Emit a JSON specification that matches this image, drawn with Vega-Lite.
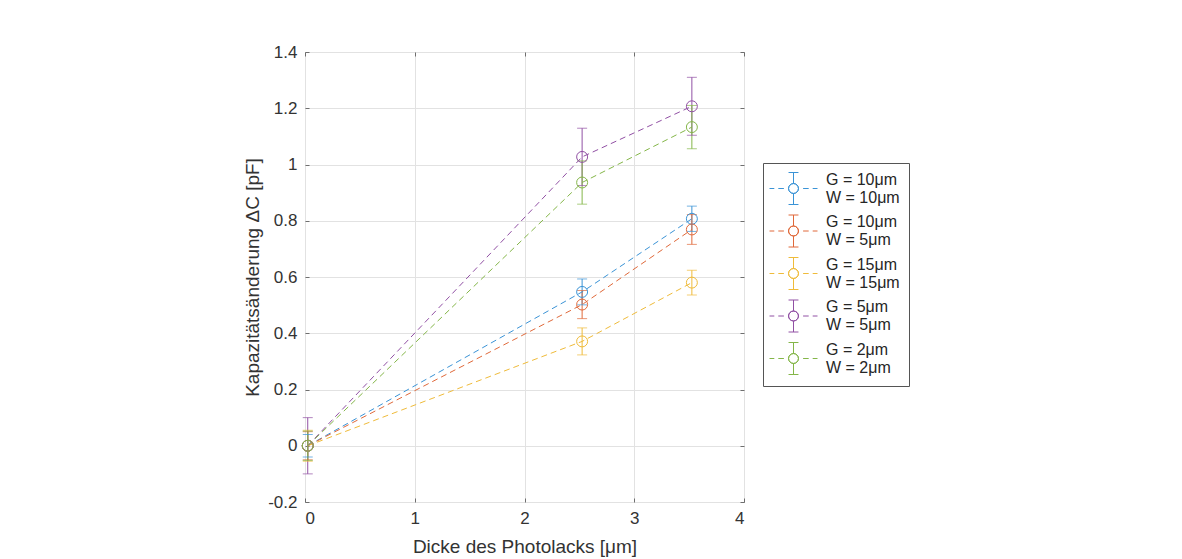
{
  "$schema": "https://vega.github.io/schema/vega-lite/v6.json",
  "width": 439,
  "height": 450,
  "autosize": {"type": "none"},
  "padding": {"left": 305, "top": 52, "right": 438, "bottom": 57},
  "background": "white",
  "config": {
    "font": "Liberation Sans",
    "view": {"stroke": "#6e6e6e", "strokeWidth": 1}
  },
  "data": {
    "values": [
      {"series": "G = 10μm|W = 10μm", "x": 0.025, "y": 0, "lo": -0.04, "hi": 0.04},
      {"series": "G = 10μm|W = 10μm", "x": 2.525, "y": 0.547, "lo": 0.501, "hi": 0.593},
      {"series": "G = 10μm|W = 10μm", "x": 3.525, "y": 0.807, "lo": 0.762, "hi": 0.852},
      {"series": "G = 10μm|W = 5μm", "x": 0.025, "y": 0, "lo": -0.05, "hi": 0.05},
      {"series": "G = 10μm|W = 5μm", "x": 2.525, "y": 0.502, "lo": 0.452, "hi": 0.552},
      {"series": "G = 10μm|W = 5μm", "x": 3.525, "y": 0.769, "lo": 0.716, "hi": 0.822},
      {"series": "G = 15μm|W = 15μm", "x": 0.025, "y": 0, "lo": -0.055, "hi": 0.055},
      {"series": "G = 15μm|W = 15μm", "x": 2.525, "y": 0.371, "lo": 0.323, "hi": 0.419},
      {"series": "G = 15μm|W = 15μm", "x": 3.525, "y": 0.58, "lo": 0.536, "hi": 0.624},
      {"series": "G = 5μm|W = 5μm", "x": 0.025, "y": 0, "lo": -0.1, "hi": 0.1},
      {"series": "G = 5μm|W = 5μm", "x": 2.525, "y": 1.027, "lo": 0.925, "hi": 1.129},
      {"series": "G = 5μm|W = 5μm", "x": 3.525, "y": 1.207, "lo": 1.104, "hi": 1.31},
      {"series": "G = 2μm|W = 2μm", "x": 0.025, "y": 0, "lo": -0.052, "hi": 0.052},
      {"series": "G = 2μm|W = 2μm", "x": 2.525, "y": 0.936, "lo": 0.859, "hi": 1.013},
      {"series": "G = 2μm|W = 2μm", "x": 3.525, "y": 1.133, "lo": 1.056, "hi": 1.21}
    ]
  },
  "resolve": {"axis": {"x": "independent", "y": "independent"}},
  "layer": [
    {
      "mark": {"type": "rule", "strokeWidth": 1},
      "encoding": {
        "x": {
          "field": "x", "type": "quantitative",
          "scale": {"domain": [0, 4], "nice": false, "zero": false},
          "axis": {
            "orient": "bottom", "values": [0, 1, 2, 3, 4], "grid": true, "gridColor": "#e2e2e2",
            "domain": false, "tickSize": -4, "tickColor": "#6e6e6e", "labelPadding": 12,
            "labelFontSize": 17, "labelColor": "#333333", "title": "Dicke des Photolacks [μm]",
            "titleFontSize": 19, "titleFontWeight": "normal", "titleColor": "#333333", "titlePadding": 11
          }
        },
        "y": {
          "field": "lo", "type": "quantitative",
          "scale": {"domain": [-0.2, 1.4], "nice": false, "zero": false},
          "axis": {
            "orient": "left", "values": [-0.2, 0, 0.2, 0.4, 0.6, 0.8, 1, 1.2, 1.4], "grid": true, "gridColor": "#e2e2e2",
            "domain": false, "tickSize": -4, "tickColor": "#6e6e6e", "labelPadding": 12,
            "labelExpr": "replace(format(datum.value, '~g'), '\u2212', '-')",
            "labelFontSize": 17, "labelColor": "#333333", "title": "Kapazitätsänderung ΔC [pF]",
            "titleFontSize": 19, "titleFontWeight": "normal", "titleColor": "#333333", "titlePadding": 5
          }
        },
        "y2": {"field": "hi"},
        "color": {
          "field": "series", "type": "nominal",
          "scale": {
            "domain": ["G = 10μm|W = 10μm", "G = 10μm|W = 5μm", "G = 15μm|W = 15μm", "G = 5μm|W = 5μm", "G = 2μm|W = 2μm"],
            "range": ["#3a93d6", "#e0693a", "#efbb3a", "#9150a4", "#84b648"]
          },
          "legend": {
            "orient": "none", "legendX": 458, "legendY": 111, "title": null,
            "symbolType": "M-1.5,0H-1.2M-0.95,0H-0.6M0.6,0H0.95M1.2,0H1.5M0.31,0A0.31,0.31,0,1,1,-0.31,0A0.31,0.31,0,1,1,0.31,0A0.31,0.31,0,1,0,-0.31,0A0.31,0.31,0,1,0,0.31,0M0,-0.31V-1M-0.31,-1H0.31M0,0.31V1M-0.31,1H0.31",
            "symbolSize": 1024, "symbolStrokeWidth": 1, "symbolFillColor": "transparent", "symbolOffset": 5,
            "labelExpr": "split(datum.label, '|')", "labelFontSize": 16, "labelColor": "#262626",
            "labelLimit": 300, "labelOffset": 16,
            "strokeColor": "#555555", "fillColor": "white", "padding": 9, "rowPadding": 5.5,
            "symbolOpacity": 1,
            "encode": {
              "symbols": {"enter": {"fill": {"value": "transparent"}}, "update": {"fill": {"value": "transparent"}, "opacity": {"value": 1}}},
              "labels": {"update": {"dy": {"value": -9}}}
            }
          }
        }
      }
    },
    {
      "mark": {"type": "tick", "orient": "horizontal", "size": 10, "thickness": 1},
      "encoding": {
        "x": {"field": "x", "type": "quantitative", "axis": {"orient": "top", "labels": false, "title": null, "grid": false, "domain": false, "tickSize": -4, "tickColor": "#6e6e6e", "values": [0, 1, 2, 3, 4]}},
        "y": {"field": "lo", "type": "quantitative", "axis": {"orient": "right", "labels": false, "title": null, "grid": false, "domain": false, "tickSize": -4, "tickColor": "#6e6e6e", "values": [-0.2, 0, 0.2, 0.4, 0.6, 0.8, 1, 1.2, 1.4]}},
        "color": {"field": "series", "type": "nominal"}
      }
    },
    {
      "mark": {"type": "tick", "orient": "horizontal", "size": 10, "thickness": 1},
      "encoding": {
        "x": {"field": "x", "type": "quantitative", "axis": null},
        "y": {"field": "hi", "type": "quantitative", "axis": null},
        "color": {"field": "series", "type": "nominal"}
      }
    },
    {
      "mark": {"type": "line", "strokeWidth": 1, "strokeDash": [6, 4]},
      "encoding": {
        "x": {"field": "x", "type": "quantitative", "axis": null},
        "y": {"field": "y", "type": "quantitative", "axis": null},
        "color": {"field": "series", "type": "nominal"}
      }
    },
    {
      "mark": {"type": "point", "shape": "circle", "filled": false, "size": 120, "strokeWidth": 1, "opacity": 1},
      "encoding": {
        "x": {"field": "x", "type": "quantitative", "axis": null},
        "y": {"field": "y", "type": "quantitative", "axis": null},
        "color": {"field": "series", "type": "nominal"}
      }
    }
  ]
}
